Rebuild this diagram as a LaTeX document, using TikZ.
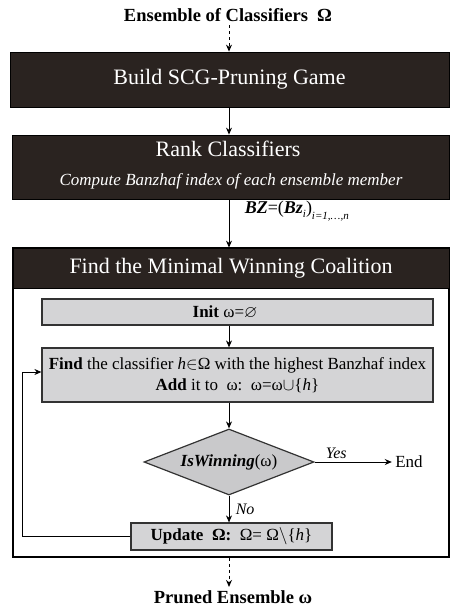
\documentclass[tikz,border=0pt]{standalone}
\usepackage{amssymb}
\usepackage{fontspec}
\setmainfont{Liberation Serif}
\usetikzlibrary{shapes.geometric,arrows.meta}
\definecolor{dark}{HTML}{2A2320}
\definecolor{lightgrey}{HTML}{D4D4D6}
\definecolor{diagrey}{HTML}{C9C9CB}
\tikzset{
  darkbox/.style={draw=black, line width=0.8pt, fill=dark, text=white, inner sep=0pt},
  greybox/.style={draw=black!80, line width=1.2pt, fill=lightgrey, inner sep=0pt, font=\fontsize{17}{20}\selectfont},
  arr/.style={line width=0.9pt, -{Stealth[length=7pt,width=6pt]}},
  dasharr/.style={arr, dashed, dash pattern=on 3pt off 3pt},
  plain/.style={line width=0.9pt}
}
\begin{document}
\begin{tikzpicture}[x=1pt,y=-1pt]
\useasboundingbox (0,0) rectangle (450,609);
\coordinate (col) at (229,0);
\coordinate (lp) at (22,0);
% title
\node[font=\fontsize{18.5}{20}\selectfont\bfseries] (title) at (228,15) {Ensemble of Classifiers\ \ Ω};
% build
\node[darkbox, minimum width=439pt, minimum height=55pt, font=\fontsize{22}{24}\selectfont] (build) at (229.5,79.5) {Build SCG-Pruning Game};
% rank
\node[darkbox, minimum width=437pt, minimum height=64pt] (rank) at (230.5,167) {};
\node[text=white, font=\fontsize{22}{24}\selectfont] (ranktitle) at (228,149) {Rank Classifiers};
\node[text=white, font=\fontsize{17}{20}\selectfont\itshape] (ranksub) at (231,181) {Compute Banzhaf index of each ensemble member};
% main frame
\node[draw=black, line width=1.2pt, minimum width=436pt, minimum height=309pt, inner sep=0pt] (frame) at (231,402.5) {};
\node[darkbox, minimum width=436pt, minimum height=40pt, font=\fontsize{22}{24}\selectfont] (header) at (231,268) {Find the Minimal Winning Coalition};
% init
\node[greybox, minimum width=391pt, minimum height=26pt] (init) at (237.5,312) {};
\node[font=\fontsize{17}{20}\selectfont] (inittext) at (225,312) {\textbf{Init} ω=$\varnothing$};
% find
\node[greybox, minimum width=391pt, minimum height=54pt, align=center] (find) at (237.5,375)
  {\textbf{Find} the classifier \textit{h}$\in$Ω with the highest Banzhaf index\\[1pt] \textbf{Add} it to\ \ ω:\ \ ω=ω$\cup$\{\textit{h}\}};
% diamond
\node[diamond, draw=black!80, line width=1.2pt, fill=diagrey, minimum width=170pt, minimum height=66pt, inner sep=0pt, aspect=2.58, font=\fontsize{17}{20}\selectfont] (win) at (229,462) {\textbf{\textit{IsWinning}}(ω)};
% end
\node[font=\fontsize{17}{20}\selectfont] (end) at (409,462) {End};
% update
\node[greybox, minimum width=201pt, minimum height=27pt] (update) at (231.5,536.5) {\textbf{Update\ \ Ω:}\ \ Ω= Ω$\backslash$\{\textit{h}\}};
% pruned
\node[font=\fontsize{18.5}{20}\selectfont\bfseries] (pruned) at (233,597) {Pruned Ensemble ω};

% connectors
\draw[dasharr] (title.south -| col) -- (build.north -| col);
\draw[arr] (build.south -| col) -- (rank.north -| col);
\draw[arr] (rank.south -| col) -- node[right=12pt, pos=0.25, font=\fontsize{18}{20}\selectfont] (bz) {\textbf{\textit{BZ}}=(\textbf{\textit{Bz}}\raisebox{-4pt}{\fontsize{11}{12}\selectfont\textit{i}})\raisebox{-6pt}{\fontsize{11}{12}\selectfont\textit{i=1,\dots,n}}} (header.north -| col);
\draw[arr] (init.south -| col) -- (find.north -| col);
\draw[arr] (find.south -| col) -- (win.north);
\draw[arr] (win.east) -- node[above, pos=0.28, font=\fontsize{16}{18}\selectfont\itshape] (yes) {Yes} (end.west);
\draw[arr] (win.south) -- node[right=3pt, font=\fontsize{16}{18}\selectfont\itshape] (no) {No} (update.north -| col);
\draw[arr] (update.west) -- (update.west -| lp) |- ([yshift=3pt]find.west);
\draw[dasharr] (frame.south -| col) -- (pruned.north -| col);
\end{tikzpicture}
\end{document}
